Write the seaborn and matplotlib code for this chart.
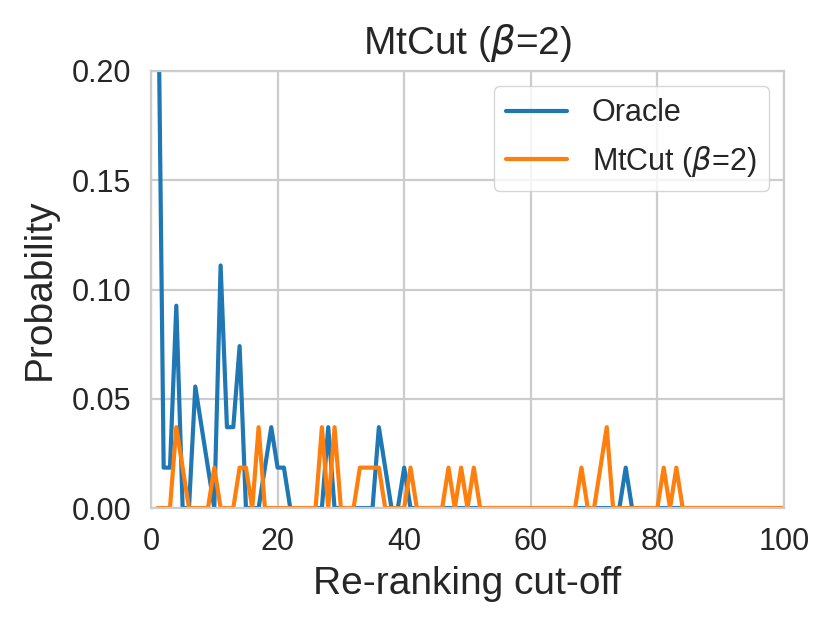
import numpy as np
import pandas as pd
import matplotlib
matplotlib.use('Agg')
import matplotlib.pyplot as plt
import seaborn as sns

# cut-offs run 1..100, only the non-zero points are listed
cutoffs = np.arange(1, 101)

oracle_x = [1, 2, 3, 4, 7, 8, 9, 11, 12, 13, 14, 18, 19, 20, 21, 28, 36, 37, 40, 75]
oracle_p = [0.278, 0.0185, 0.0185, 0.0926, 0.0556, 0.037, 0.0185, 0.111, 0.037, 0.037,
            0.0741, 0.0185, 0.037, 0.0185, 0.0185, 0.037, 0.037, 0.0185, 0.0185, 0.0185]

mtcut_x = [4, 5, 10, 14, 15, 17, 27, 29, 33, 34, 35, 36, 41, 47, 49, 51, 68, 71, 72, 81, 83]
mtcut_p = [0.037, 0.0185, 0.0185, 0.0185, 0.0185, 0.037, 0.037, 0.037, 0.0185, 0.0185,
           0.0185, 0.0185, 0.0185, 0.0185, 0.0185, 0.0185, 0.0185, 0.0185, 0.037, 0.0185, 0.0185]

series_names = ['Oracle', r'MtCut ($\beta$=2)']

oracle = pd.Series(0.0, index=cutoffs)
oracle[oracle_x] = oracle_p
mtcut = pd.Series(0.0, index=cutoffs)
mtcut[mtcut_x] = mtcut_p

df = pd.concat([
    pd.DataFrame({'cutoff': cutoffs, 'prob': oracle.values, 'method': series_names[0]}),
    pd.DataFrame({'cutoff': cutoffs, 'prob': mtcut.values, 'method': series_names[1]}),
])

sns.set_theme(style='whitegrid', rc={'grid.linewidth': 1.6, 'axes.linewidth': 1.6,
                                     'grid.color': '#cccccc', 'axes.edgecolor': '#cccccc'})
plt.rcParams['font.family'] = ['Liberation Sans', 'DejaVu Sans']

fig = plt.figure(figsize=(8.31, 6.28), dpi=100)
ax = fig.add_axes([0.1817, 0.191, 0.7617, 0.696])

sns.lineplot(data=df, x='cutoff', y='prob', hue='method', ax=ax,
             palette=['#1f77b4', '#ff7f0e'], linewidth=3)

ax.set_xlim(0, 100)
ax.set_ylim(0, 0.2)
ax.set_xticks([0, 20, 40, 60, 80, 100])
ax.set_yticks([0.0, 0.05, 0.10, 0.15, 0.20])
ax.set_yticklabels(['0.00', '0.05', '0.10', '0.15', '0.20'])
ax.tick_params(labelsize=22, pad=8)
ax.set_title(r'MtCut ($\beta$=2)', fontsize=28, pad=12)
ax.set_xlabel('Re-ranking cut-off', fontsize=28, labelpad=6)
ax.set_ylabel('Probability', fontsize=28, labelpad=10)

handles, labels = ax.get_legend_handles_labels()
ax.legend(handles, labels, loc='upper right', fontsize=22, frameon=True,
          handlelength=2.0, borderaxespad=0.5)

fig.savefig('out.png', dpi=100)
